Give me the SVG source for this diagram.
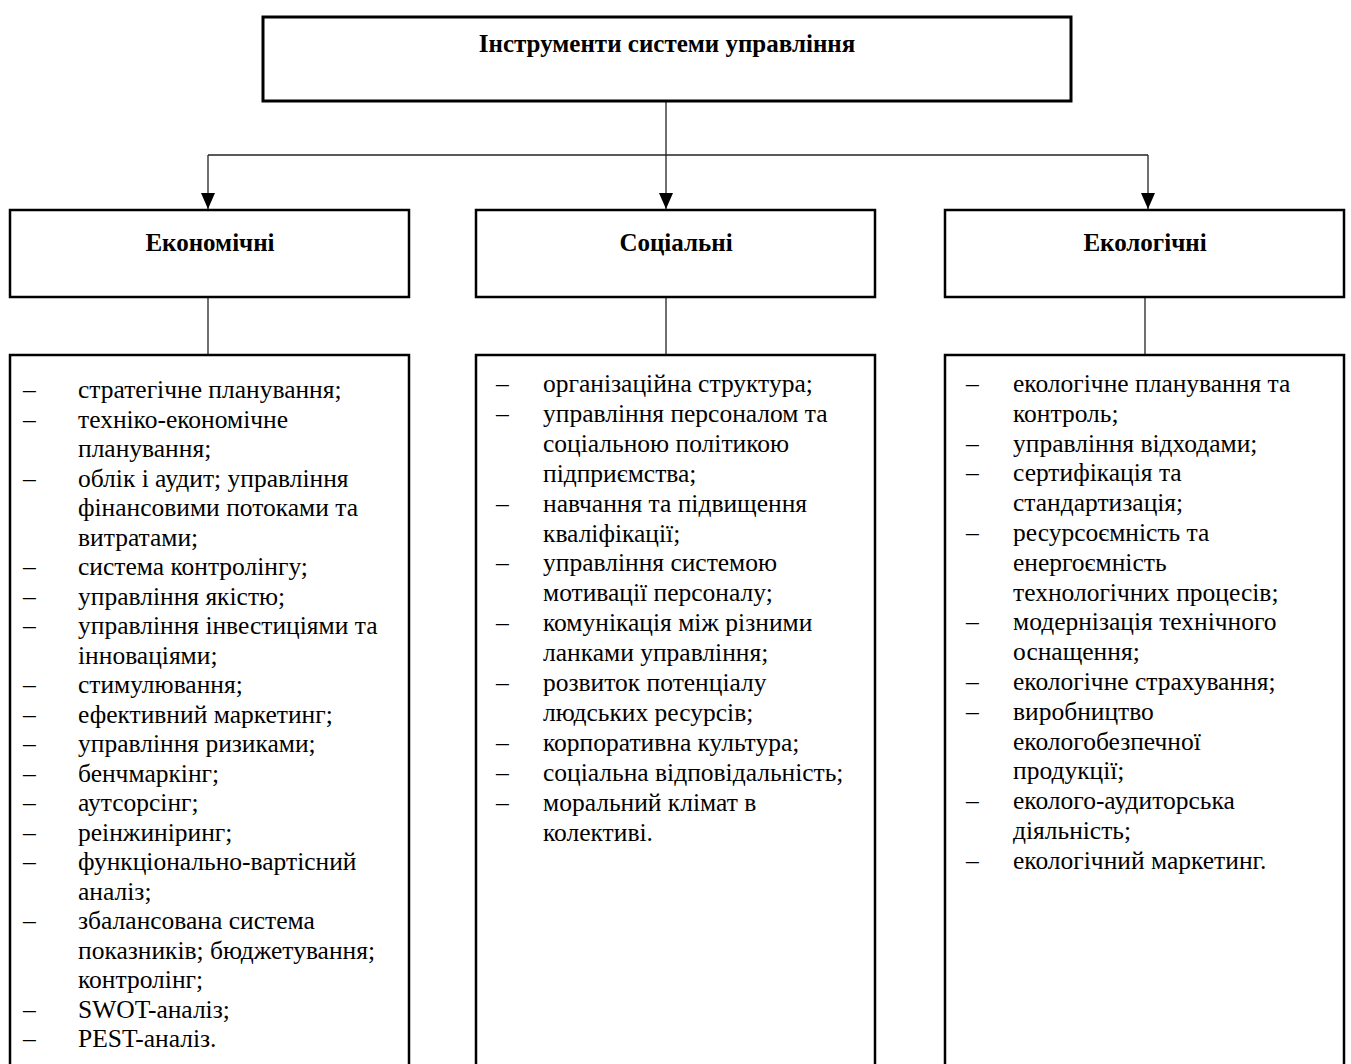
<svg xmlns="http://www.w3.org/2000/svg" width="1351" height="1064" viewBox="0 0 1351 1064">
<defs>
<style>
.box{fill:#fff;stroke:#000;stroke-width:2.5}
.ln{fill:none;stroke:#222;stroke-width:1.3}
.hd{font-family:"Liberation Serif","Times New Roman",serif;font-weight:bold;font-size:25px;text-anchor:middle;fill:#000}
.it{font-family:"Liberation Serif","Times New Roman",serif;font-size:25.5px;fill:#000}
</style>
<marker id="arr" markerUnits="userSpaceOnUse" markerWidth="16" markerHeight="14" viewBox="0 0 16 14" refX="16" refY="7" orient="auto">
<path d="M0,0 L16,7 L0,14 Z" fill="#000"/>
</marker>
</defs>
<rect width="1351" height="1064" fill="#fff"/>
<g id="connectors">
<line class="ln" x1="666" y1="101" x2="666" y2="155"/>
<line class="ln" x1="208" y1="155" x2="1148" y2="155"/>
<line class="ln" x1="208" y1="155" x2="208" y2="209" marker-end="url(#arr)"/>
<line class="ln" x1="666" y1="155" x2="666" y2="209" marker-end="url(#arr)"/>
<line class="ln" x1="1148" y1="155" x2="1148" y2="209" marker-end="url(#arr)"/>
<line class="ln" x1="208" y1="297" x2="208" y2="355"/>
<line class="ln" x1="666" y1="297" x2="666" y2="355"/>
<line class="ln" x1="1145" y1="297" x2="1145" y2="355"/>
</g>
<g id="root">
<rect class="box" x="263" y="17" width="808" height="84" style="stroke-width:3"/>
<text class="hd" x="667" y="52">Інструменти системи управління</text>
</g>
<g id="econ">
<rect class="box" x="10" y="210" width="399" height="87"/>
<text class="hd" x="210" y="251">Економічні</text>
</g>
<g id="soc">
<rect class="box" x="476" y="210" width="399" height="87"/>
<text class="hd" x="676" y="251">Соціальні</text>
</g>
<g id="eco">
<rect class="box" x="945" y="210" width="399" height="87"/>
<text class="hd" x="1145" y="251">Екологічні</text>
</g>
<g id="econ-list">
<rect class="box" x="10" y="355" width="399" height="720"/>
<g class="it">
<text x="23" y="398">–</text><text x="78" y="398">стратегічне планування;</text>
<text x="23" y="427.5">–</text><text x="78" y="427.5">техніко-економічне</text>
<text x="78" y="457">планування;</text>
<text x="23" y="486.5">–</text><text x="78" y="486.5">облік і аудит; управління</text>
<text x="78" y="516">фінансовими потоками та</text>
<text x="78" y="545.5">витратами;</text>
<text x="23" y="575">–</text><text x="78" y="575">система контролінгу;</text>
<text x="23" y="604.5">–</text><text x="78" y="604.5">управління якістю;</text>
<text x="23" y="634">–</text><text x="78" y="634">управління інвестиціями та</text>
<text x="78" y="663.5">інноваціями;</text>
<text x="23" y="693">–</text><text x="78" y="693">стимулювання;</text>
<text x="23" y="722.5">–</text><text x="78" y="722.5">ефективний маркетинг;</text>
<text x="23" y="752">–</text><text x="78" y="752">управління ризиками;</text>
<text x="23" y="781.5">–</text><text x="78" y="781.5">бенчмаркінг;</text>
<text x="23" y="811">–</text><text x="78" y="811">аутсорсінг;</text>
<text x="23" y="840.5">–</text><text x="78" y="840.5">реінжиніринг;</text>
<text x="23" y="870">–</text><text x="78" y="870">функціонально-вартісний</text>
<text x="78" y="899.5">аналіз;</text>
<text x="23" y="929">–</text><text x="78" y="929">збалансована система</text>
<text x="78" y="958.5">показників; бюджетування;</text>
<text x="78" y="988">контролінг;</text>
<text x="23" y="1017.5">–</text><text x="78" y="1017.5">SWOT-аналіз;</text>
<text x="23" y="1047">–</text><text x="78" y="1047">PEST-аналіз.</text>
</g>
</g>
<g id="soc-list">
<rect class="box" x="476" y="355" width="399" height="720"/>
<g class="it">
<text x="496" y="392">–</text><text x="543" y="392">організаційна структура;</text>
<text x="496" y="421.9">–</text><text x="543" y="421.9">управління персоналом та</text>
<text x="543" y="451.8">соціальною політикою</text>
<text x="543" y="481.7">підприємства;</text>
<text x="496" y="511.6">–</text><text x="543" y="511.6">навчання та підвищення</text>
<text x="543" y="541.5">кваліфікації;</text>
<text x="496" y="571.4">–</text><text x="543" y="571.4">управління системою</text>
<text x="543" y="601.3">мотивації персоналу;</text>
<text x="496" y="631.2">–</text><text x="543" y="631.2">комунікація між різними</text>
<text x="543" y="661.1">ланками управління;</text>
<text x="496" y="691">–</text><text x="543" y="691">розвиток потенціалу</text>
<text x="543" y="720.9">людських ресурсів;</text>
<text x="496" y="750.8">–</text><text x="543" y="750.8">корпоративна культура;</text>
<text x="496" y="780.7">–</text><text x="543" y="780.7">соціальна відповідальність;</text>
<text x="496" y="810.6">–</text><text x="543" y="810.6">моральний клімат в</text>
<text x="543" y="840.5">колективі.</text>
</g>
</g>
<g id="eco-list">
<rect class="box" x="945" y="355" width="399" height="720"/>
<g class="it">
<text x="966" y="392">–</text><text x="1013" y="392">екологічне планування та</text>
<text x="1013" y="421.8">контроль;</text>
<text x="966" y="451.6">–</text><text x="1013" y="451.6">управління відходами;</text>
<text x="966" y="481.4">–</text><text x="1013" y="481.4">сертифікація та</text>
<text x="1013" y="511.2">стандартизація;</text>
<text x="966" y="541">–</text><text x="1013" y="541">ресурсоємність та</text>
<text x="1013" y="570.8">енергоємність</text>
<text x="1013" y="600.6">технологічних процесів;</text>
<text x="966" y="630.4">–</text><text x="1013" y="630.4">модернізація технічного</text>
<text x="1013" y="660.2">оснащення;</text>
<text x="966" y="690">–</text><text x="1013" y="690">екологічне страхування;</text>
<text x="966" y="719.8">–</text><text x="1013" y="719.8">виробництво</text>
<text x="1013" y="749.6">екологобезпечної</text>
<text x="1013" y="779.4">продукції;</text>
<text x="966" y="809.2">–</text><text x="1013" y="809.2">еколого-аудиторська</text>
<text x="1013" y="839">діяльність;</text>
<text x="966" y="868.8">–</text><text x="1013" y="868.8">екологічний маркетинг.</text>
</g>
</g>
</svg>
